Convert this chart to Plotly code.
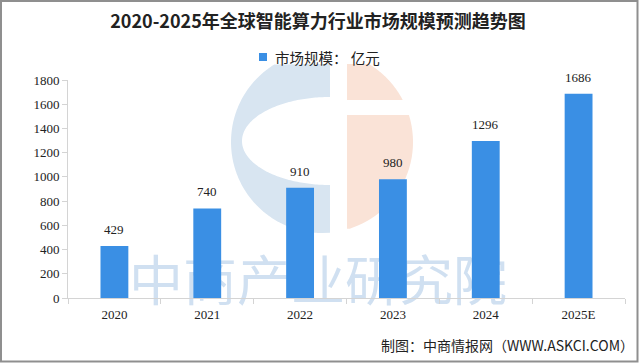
import numpy as np
import plotly.graph_objects as go

years = ["2020", "2021", "2022", "2023", "2024", "2025E"]
values = [429, 740, 910, 980, 1296, 1686]
series_name = "市场规模： 亿元"
title = "2020-2025年全球智能算力行业市场规模预测趋势图"
source = "制图：中商情报网（WWW.ASKCI.COM）"
watermark = "中商产业研究院"

W, H = 640, 363
ML, MR, MT, MB = 68, 15, 80, 65
PW, PH = W - ML - MR, H - MT - MB
BAR = "#3a8fe4"


def px(x):
    return (x - ML) / PW


def py(y):
    return (H - MB - y) / PH


def path_from(points):
    return "M " + " L ".join(f"{px(a):.4f},{py(b):.4f}" for a, b in points) + " Z"


# decorative watermark logo (pixel geometry)
cx, cy, r = 322, 142, 91
top_clip = 64
outer = []
for a in np.linspace(np.pi / 2, 3 * np.pi / 2, 200):
    x, y = cx + r * np.cos(a), cy - r * np.sin(a)
    if y < top_clip:
        continue
    outer.append((x, y))
inner = []
icx, icy, irx, iry = 330, 141, 88, 44
for a in np.linspace(3 * np.pi / 2, np.pi / 2, 150):
    inner.append((icx + irx * np.cos(a), icy - iry * np.sin(a)))
blue_path = path_from([(330, top_clip)] + outer + [(330, cy + np.sqrt(r**2 - 8**2))] + inner)

orange_paths = []
for (y0, y1) in [(top_clip, 100), (115, 240)]:
    arc = []
    for yy in np.linspace(y0, y1, 100):
        dy = yy - cy
        if abs(dy) >= r:
            continue
        xx = cx + np.sqrt(r**2 - dy**2)
        if xx < 347:
            continue
        arc.append((xx, yy))
    orange_paths.append(path_from([(347, arc[0][1])] + arc + [(347, arc[-1][1])]))

shapes = [
    dict(type="path", path=blue_path, xref="paper", yref="paper",
         fillcolor="rgb(216,229,241)", line=dict(width=0), layer="below"),
]
for p in orange_paths:
    shapes.append(dict(type="path", path=p, xref="paper", yref="paper",
                       fillcolor="rgb(250,227,215)", line=dict(width=0), layer="below"))
# watermark text
shapes.append(dict(type="rect", xref="paper", yref="paper", x0=px(118), x1=px(518),
                   y0=py(314), y1=py(258), line=dict(width=0), fillcolor="rgba(0,0,0,0)",
                   layer="below",
                   label=dict(text=watermark, font=dict(size=54, color="rgb(208,224,241)",
                                                          family="Noto Sans CJK SC"),
                              textposition="middle center")))
# legend marker
shapes.append(dict(type="rect", xref="paper", yref="paper", x0=px(259), x1=px(267),
                   y0=py(61), y1=py(53), fillcolor=BAR, line=dict(width=0)))
# frame
shapes.append(dict(type="rect", xref="paper", yref="paper", x0=px(1.0), x1=px(637.5),
                   y0=py(361.5), y1=py(1.0), line=dict(color="#8f8f8f", width=2),
                   fillcolor="rgba(0,0,0,0)", layer="above"))

fig = go.Figure()
fig.add_trace(go.Bar(
    x=years, y=values, name=series_name,
    marker=dict(color=BAR, line=dict(width=0)),
    width=0.3, showlegend=False,
))

annotations = [
    dict(x=i, y=v, xref="x", yref="y", text=str(v), showarrow=False,
         yanchor="bottom", yshift=7, font=dict(size=13, color="#222", family="Liberation Serif"))
    for i, v in enumerate(values)
]
annotations += [
    dict(text=series_name, xref="paper", yref="paper", x=px(273), xanchor="left",
         y=py(57), yanchor="middle", showarrow=False, font=dict(size=14.5, color="#222")),
    dict(text=source, xref="paper", yref="paper", x=px(636), xanchor="right",
         y=py(345), yanchor="middle", showarrow=False, font=dict(size=14, color="#222")),
]

fig.update_layout(
    width=W, height=H,
    margin=dict(l=ML, r=MR, t=MT, b=MB, autoexpand=False),
    paper_bgcolor="white", plot_bgcolor="rgba(0,0,0,0)",
    font=dict(family="Noto Sans CJK SC", color="#222"),
    title=dict(text="<b>" + title + "</b>", x=px(318), xanchor="center", xref="paper",
               y=1 - 22 / H, yanchor="middle", font=dict(size=18, color="#222")),
    showlegend=False,
    xaxis=dict(type="category", range=[-0.5, len(years) - 0.5], showline=True,
               linecolor="#d4d4d4", ticks="outside",
               tickcolor="#d4d4d4", tickson="boundaries", ticklen=5, ticklabelstandoff=4,
               tickfont=dict(size=13, family="Liberation Serif"), showgrid=False),
    yaxis=dict(range=[0, 1800], dtick=200, showline=True, linecolor="#d4d4d4",
               ticks="outside", tickcolor="#d4d4d4", ticklen=5, showgrid=False,
               tickfont=dict(size=13, family="Liberation Serif"), zeroline=False),
    shapes=shapes,
    annotations=annotations,
)

fig.write_html("out.html", config={"displayModeBar": False},
               post_script="document.body.style.margin='0';")
